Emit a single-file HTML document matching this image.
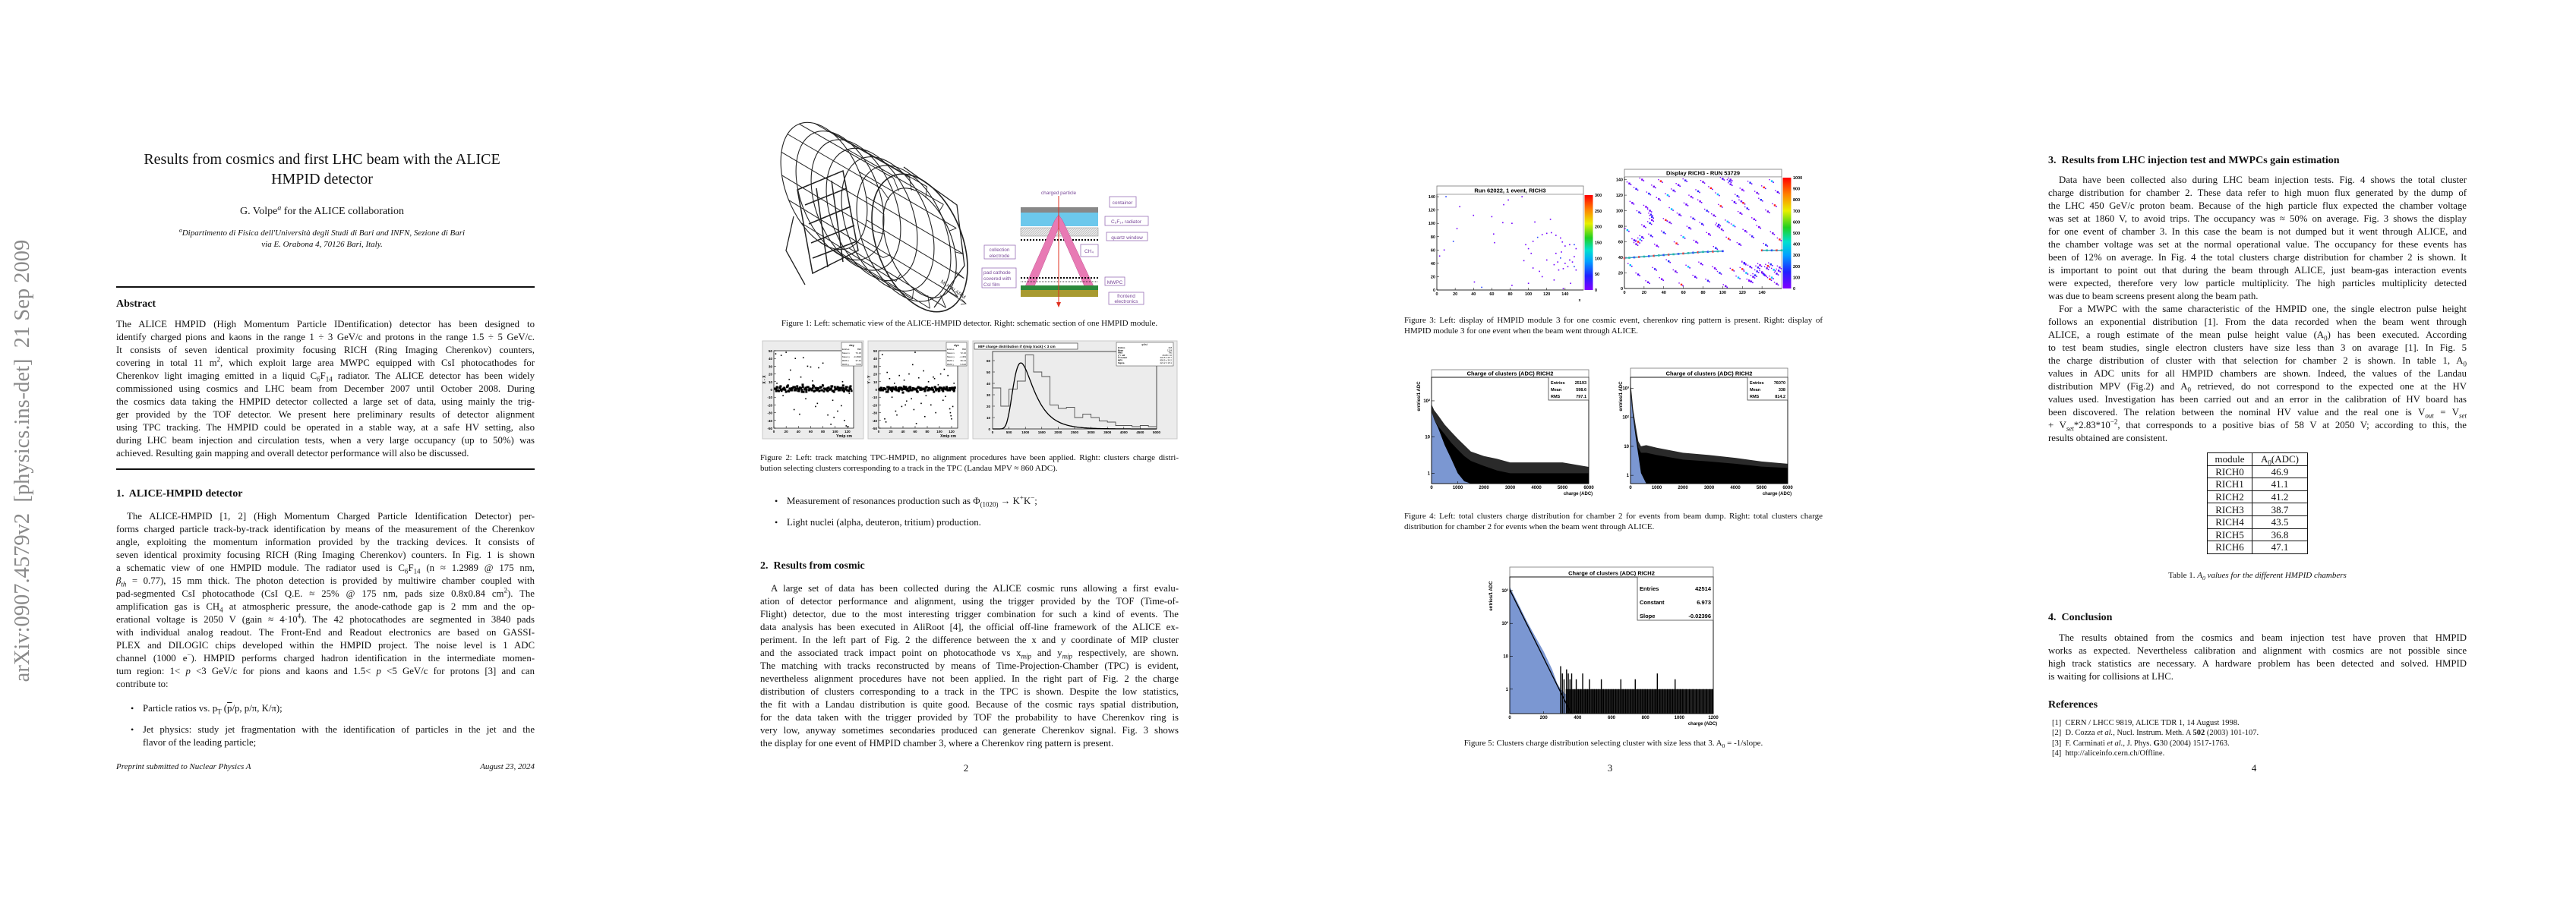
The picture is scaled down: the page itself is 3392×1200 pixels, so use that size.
<!DOCTYPE html>
<html><head><meta charset="utf-8">
<style>
html,body{margin:0;padding:0;background:#fff}
body{width:3392px;height:1200px;position:relative;overflow:hidden;font-family:"Liberation Serif",serif;color:#111}
.pg{position:absolute;top:0;width:848px;height:1200px}
.ln{position:absolute;left:153px;width:551px;height:17px;line-height:17px;font-size:12.8px;text-align:justify;text-align-last:justify;white-space:normal;overflow:visible}
.ln.e{text-align-last:left}
.ln.i{left:167px;width:537px}
.h{position:absolute;left:153px;font-weight:bold;font-size:14px;line-height:17px}
.cap{position:absolute;left:153px;width:551px;font-size:11px;line-height:14px;height:14px;text-align:justify;text-align-last:justify}
.cap.e{text-align-last:left}
.cap.c{text-align:center;text-align-last:center}
.pn{position:absolute;left:0;width:848px;text-align:center;font-size:13px;line-height:17px}
.bul{position:absolute;left:172px;font-size:12px;line-height:17px}
sub,sup{font-size:70%;line-height:0}
#figs{position:absolute;left:0;top:0}
</style></head>
<body>

<!-- PAGE 1 -->
<div class="pg" style="left:0">
  <div style="position:absolute;left:-270px;top:590px;width:600px;height:34px;transform:rotate(-90deg);font-size:28.5px;line-height:34px;color:#8a8a8a;white-space:nowrap;text-align:center">arXiv:0907.4579v2&nbsp; [physics.ins-det]&nbsp; 21 Sep 2009</div>
  <div style="position:absolute;left:0;width:848px;top:197px;text-align:center;font-size:20px;line-height:26px">Results from cosmics and first LHC beam with the ALICE<br>HMPID detector</div>
  <div style="position:absolute;left:0;width:848px;top:271px;text-align:center;font-size:14px">G. Volpe<sup><i>a</i></sup> for the ALICE collaboration</div>
  <div style="position:absolute;left:0;width:848px;top:300px;text-align:center;font-size:11px;line-height:15px;font-style:italic"><sup>a</sup>Dipartimento di Fisica dell'Università degli Studi di Bari and INFN, Sezione di Bari<br>via E. Orabona 4, 70126 Bari, Italy.</div>
  <div style="position:absolute;left:153px;width:551px;top:377px;height:1.5px;background:#111"></div>
  <div class="h" style="top:392px">Abstract</div>
  <div>
  <div class="ln" style="top:419px">The ALICE HMPID (High Momentum Particle IDentification) detector has been designed to</div>
  <div class="ln" style="top:436px">identify charged pions and kaons in the range 1 ÷ 3 GeV/c and protons in the range 1.5 ÷ 5 GeV/c.</div>
  <div class="ln" style="top:453px">It consists of seven identical proximity focusing RICH (Ring Imaging Cherenkov) counters,</div>
  <div class="ln" style="top:470px">covering in total 11 m<sup>2</sup>, which exploit large area MWPC equipped with CsI photocathodes for</div>
  <div class="ln" style="top:487px">Cherenkov light imaging emitted in a liquid C<sub>6</sub>F<sub>14</sub> radiator. The ALICE detector has been widely</div>
  <div class="ln" style="top:504px">commissioned using cosmics and LHC beam from December 2007 until October 2008. During</div>
  <div class="ln" style="top:521px">the cosmics data taking the HMPID detector collected a large set of data, using mainly the trig-</div>
  <div class="ln" style="top:538px">ger provided by the TOF detector. We present here preliminary results of detector alignment</div>
  <div class="ln" style="top:555px">using TPC tracking. The HMPID could be operated in a stable way, at a safe HV setting, also</div>
  <div class="ln" style="top:572px">during LHC beam injection and circulation tests, when a very large occupancy (up to 50%) was</div>
  <div class="ln e" style="top:589px">achieved. Resulting gain mapping and overall detector performance will also be discussed.</div>
  </div>
  <div style="position:absolute;left:153px;width:551px;top:617px;height:1.5px;background:#111"></div>
  <div class="h" style="top:642px">1.&nbsp; ALICE-HMPID detector</div>
  <div>
  <div class="ln i" style="top:672px">The ALICE-HMPID [1, 2] (High Momentum Charged Particle Identification Detector) per-</div>
  <div class="ln" style="top:689px">forms charged particle track-by-track identification by means of the measurement of the Cherenkov</div>
  <div class="ln" style="top:706px">angle, exploiting the momentum information provided by the tracking devices. It consists of</div>
  <div class="ln" style="top:723px">seven identical proximity focusing RICH (Ring Imaging Cherenkov) counters. In Fig. 1 is shown</div>
  <div class="ln" style="top:740px">a schematic view of one HMPID module. The radiator used is C<sub>6</sub>F<sub>14</sub> (n ≈ 1.2989 @ 175 nm,</div>
  <div class="ln" style="top:757px"><i>β<sub>th</sub></i> = 0.77), 15 mm thick. The photon detection is provided by multiwire chamber coupled with</div>
  <div class="ln" style="top:774px">pad-segmented CsI photocathode (CsI Q.E. ≈ 25% @ 175 nm, pads size 0.8x0.84 cm<sup>2</sup>). The</div>
  <div class="ln" style="top:791px">amplification gas is CH<sub>4</sub> at atmospheric pressure, the anode-cathode gap is 2 mm and the op-</div>
  <div class="ln" style="top:808px">erational voltage is 2050 V (gain ≈ 4·10<sup>4</sup>). The 42 photocathodes are segmented in 3840 pads</div>
  <div class="ln" style="top:825px">with individual analog readout. The Front-End and Readout electronics are based on GASSI-</div>
  <div class="ln" style="top:842px">PLEX and DILOGIC chips developed within the HMPID project. The noise level is 1 ADC</div>
  <div class="ln" style="top:859px">channel (1000 e<sup>−</sup>). HMPID performs charged hadron identification in the intermediate momen-</div>
  <div class="ln" style="top:876px">tum region: 1&lt; <i>p</i> &lt;3 GeV/c for pions and kaons and 1.5&lt; <i>p</i> &lt;5 GeV/c for protons [3] and can</div>
  <div class="ln e" style="top:893px">contribute to:</div>
  </div>
  <div class="bul" style="top:925px">•</div>
  <div class="ln e" style="top:925px;left:188px;width:516px">Particle ratios vs. p<sub>T</sub> (<span style="text-decoration:overline">p</span>/p, p/π, K/π);</div>
  <div class="bul" style="top:953px">•</div>
  <div class="ln" style="top:953px;left:188px;width:516px">Jet physics: study jet fragmentation with the identification of particles in the jet and the</div>
  <div class="ln e" style="top:970px;left:188px;width:516px">flavor of the leading particle;</div>
  <div style="position:absolute;left:153px;top:1004px;font-size:11px;font-style:italic">Preprint submitted to Nuclear Physics A</div>
  <div style="position:absolute;left:504px;width:200px;text-align:right;top:1004px;font-size:11px;font-style:italic">August 23, 2024</div>
</div>

<!-- PAGE 2 -->
<div class="pg" style="left:848px">
  <div class="cap c" style="top:419px">Figure 1: Left: schematic view of the ALICE-HMPID detector. Right: schematic section of one HMPID module.</div>
  <div class="cap" style="top:596px">Figure 2: Left: track matching TPC-HMPID, no alignment procedures have been applied. Right: clusters charge distri-</div>
  <div class="cap e" style="top:610px">bution selecting clusters corresponding to a track in the TPC (Landau MPV ≈ 860 ADC).</div>
  <div class="bul" style="top:652px">•</div>
  <div class="ln e" style="top:652px;left:188px;width:516px">Measurement of resonances production such as Φ<sub>(1020)</sub> → K<sup>+</sup>K<sup>−</sup>;</div>
  <div class="bul" style="top:680px">•</div>
  <div class="ln e" style="top:680px;left:188px;width:516px">Light nuclei (alpha, deuteron, tritium) production.</div>
  <div class="h" style="top:737px">2.&nbsp; Results from cosmic</div>
  <div>
  <div class="ln i" style="top:767px">A large set of data has been collected during the ALICE cosmic runs allowing a first evalu-</div>
  <div class="ln" style="top:784px">ation of detector performance and alignment, using the trigger provided by the TOF (Time-of-</div>
  <div class="ln" style="top:801px">Flight) detector, due to the most interesting trigger combination for such a kind of events. The</div>
  <div class="ln" style="top:818px">data analysis has been executed in AliRoot [4], the official off-line framework of the ALICE ex-</div>
  <div class="ln" style="top:835px">periment. In the left part of Fig. 2 the difference between the x and y coordinate of MIP cluster</div>
  <div class="ln" style="top:852px">and the associated track impact point on photocathode vs x<sub><i>mip</i></sub> and y<sub><i>mip</i></sub> respectively, are shown.</div>
  <div class="ln" style="top:869px">The matching with tracks reconstructed by means of Time-Projection-Chamber (TPC) is evident,</div>
  <div class="ln" style="top:886px">nevertheless alignment procedures have not been applied. In the right part of Fig. 2 the charge</div>
  <div class="ln" style="top:903px">distribution of clusters corresponding to a track in the TPC is shown. Despite the low statistics,</div>
  <div class="ln" style="top:920px">the fit with a Landau distribution is quite good. Because of the cosmic rays spatial distribution,</div>
  <div class="ln" style="top:937px">for the data taken with the trigger provided by TOF the probability to have Cherenkov ring is</div>
  <div class="ln" style="top:954px">very low, anyway sometimes secondaries produced can generate Cherenkov signal. Fig. 3 shows</div>
  <div class="ln e" style="top:971px">the display for one event of HMPID chamber 3, where a Cherenkov ring pattern is present.</div>
  </div>
  <div class="pn" style="top:1003px">2</div>
</div>

<!-- PAGE 3 -->
<div class="pg" style="left:1696px">
  <div class="cap" style="top:415px">Figure 3: Left: display of HMPID module 3 for one cosmic event, cherenkov ring pattern is present. Right: display of</div>
  <div class="cap e" style="top:429px">HMPID module 3 for one event when the beam went through ALICE.</div>
  <div class="cap" style="top:673px">Figure 4: Left: total clusters charge distribution for chamber 2 for events from beam dump. Right: total clusters charge</div>
  <div class="cap e" style="top:687px">distribution for chamber 2 for events when the beam went through ALICE.</div>
  <div class="cap c" style="top:972px">Figure 5: Clusters charge distribution selecting cluster with size less that 3. A<sub>0</sub> = -1/slope.</div>
  <div class="pn" style="top:1003px">3</div>
</div>

<!-- PAGE 4 -->
<div class="pg" style="left:2544px">
  <div class="h" style="top:203px">3.&nbsp; Results from LHC injection test and MWPCs gain estimation</div>
  <div>
  <div class="ln i" style="top:229px">Data have been collected also during LHC beam injection tests. Fig. 4 shows the total cluster</div>
  <div class="ln" style="top:246px">charge distribution for chamber 2. These data refer to high muon flux generated by the dump of</div>
  <div class="ln" style="top:263px">the LHC 450 GeV/c proton beam. Because of the high particle flux expected the chamber voltage</div>
  <div class="ln" style="top:280px">was set at 1860 V, to avoid trips. The occupancy was ≈ 50% on average. Fig. 3 shows the display</div>
  <div class="ln" style="top:297px">for one event of chamber 3. In this case the beam is not dumped but it went through ALICE, and</div>
  <div class="ln" style="top:314px">the chamber voltage was set at the normal operational value. The occupancy for these events has</div>
  <div class="ln" style="top:331px">been of 12% on average. In Fig. 4 the total clusters charge distribution for chamber 2 is shown. It</div>
  <div class="ln" style="top:348px">is important to point out that during the beam through ALICE, just beam-gas interaction events</div>
  <div class="ln" style="top:365px">were expected, therefore very low particle multiplicity. The high particles multiplicity detected</div>
  <div class="ln e" style="top:382px">was due to beam screens present along the beam path.</div>
  <div class="ln i" style="top:399px">For a MWPC with the same characteristic of the HMPID one, the single electron pulse height</div>
  <div class="ln" style="top:416px">follows an exponential distribution [1]. From the data recorded when the beam went through</div>
  <div class="ln" style="top:433px">ALICE, a rough estimate of the mean pulse height value (A<sub>0</sub>) has been executed. According</div>
  <div class="ln" style="top:450px">to test beam studies, single electron clusters have size less than 3 on avarage [1]. In Fig. 5</div>
  <div class="ln" style="top:467px">the charge distribution of cluster with that selection for chamber 2 is shown. In table 1, A<sub>0</sub></div>
  <div class="ln" style="top:484px">values in ADC units for all HMPID chambers are shown. Indeed, the values of the Landau</div>
  <div class="ln" style="top:501px">distribution MPV (Fig.2) and A<sub>0</sub> retrieved, do not correspond to the expected one at the HV</div>
  <div class="ln" style="top:518px">values used. Investigation has been carried out and an error in the calibration of HV board has</div>
  <div class="ln" style="top:535px">been discovered. The relation between the nominal HV value and the real one is V<sub><i>out</i></sub> = V<sub><i>set</i></sub></div>
  <div class="ln" style="top:552px">+ V<sub><i>set</i></sub>*2.83*10<sup>−2</sup>, that corresponds to a positive bias of 58 V at 2050 V; according to this, the</div>
  <div class="ln e" style="top:569px">results obtained are consistent.</div>
  </div>
  <table style="position:absolute;left:362px;top:596px;border-collapse:collapse;font-size:13px;line-height:15px">
    <tr><td style="border:1.2px solid #111;width:58px;text-align:center;height:15.6px;padding:0">module</td><td style="border:1.2px solid #111;width:72px;text-align:center;padding:0">A<sub>0</sub>(ADC)</td></tr>
    <tr><td style="border:1.2px solid #111;text-align:center;height:15.6px;padding:0">RICH0</td><td style="border:1.2px solid #111;text-align:center;padding:0">46.9</td></tr>
    <tr><td style="border:1.2px solid #111;text-align:center;height:15.6px;padding:0">RICH1</td><td style="border:1.2px solid #111;text-align:center;padding:0">41.1</td></tr>
    <tr><td style="border:1.2px solid #111;text-align:center;height:15.6px;padding:0">RICH2</td><td style="border:1.2px solid #111;text-align:center;padding:0">41.2</td></tr>
    <tr><td style="border:1.2px solid #111;text-align:center;height:15.6px;padding:0">RICH3</td><td style="border:1.2px solid #111;text-align:center;padding:0">38.7</td></tr>
    <tr><td style="border:1.2px solid #111;text-align:center;height:15.6px;padding:0">RICH4</td><td style="border:1.2px solid #111;text-align:center;padding:0">43.5</td></tr>
    <tr><td style="border:1.2px solid #111;text-align:center;height:15.6px;padding:0">RICH5</td><td style="border:1.2px solid #111;text-align:center;padding:0">36.8</td></tr>
    <tr><td style="border:1.2px solid #111;text-align:center;height:15.6px;padding:0">RICH6</td><td style="border:1.2px solid #111;text-align:center;padding:0">47.1</td></tr>
  </table>
  <div class="cap c" style="top:751px">Table 1. <i>A<sub>0</sub> values for the different HMPID chambers</i></div>
  <div class="h" style="top:805px">4.&nbsp; Conclusion</div>
  <div>
  <div class="ln i" style="top:832px">The results obtained from the cosmics and beam injection test have proven that HMPID</div>
  <div class="ln" style="top:849px">works as expected. Nevertheless calibration and alignment with cosmics are not possible since</div>
  <div class="ln" style="top:866px">high track statistics are necessary. A hardware problem has been detected and solved. HMPID</div>
  <div class="ln e" style="top:883px">is waiting for collisions at LHC.</div>
  </div>
  <div class="h" style="top:920px">References</div>
  <div style="position:absolute;left:158px;top:946px;font-size:10.5px;line-height:13.4px">
    [1]&nbsp; CERN / LHCC 9819, ALICE TDR 1, 14 August 1998.<br>
    [2]&nbsp; D. Cozza <i>et al.</i>, Nucl. Instrum. Meth. A <b>502</b> (2003) 101-107.<br>
    [3]&nbsp; F. Carminati <i>et al.</i>, J. Phys. <b>G</b>30 (2004) 1517-1763.<br>
    [4]&nbsp; http://aliceinfo.cern.ch/Offline.
  </div>
  <div class="pn" style="top:1003px">4</div>
</div>

<svg id="figs" width="3392" height="1200" xmlns="http://www.w3.org/2000/svg">
<defs>
  <linearGradient id="rainbow" x1="0" y1="1" x2="0" y2="0">
    <stop offset="0" stop-color="#8000ff"/><stop offset="0.15" stop-color="#2020ff"/><stop offset="0.3" stop-color="#00a0ff"/>
    <stop offset="0.42" stop-color="#00e0d0"/><stop offset="0.55" stop-color="#20d020"/><stop offset="0.7" stop-color="#e8f000"/>
    <stop offset="0.85" stop-color="#ff8000"/><stop offset="1" stop-color="#ff0000"/>
  </linearGradient>
  <pattern id="hatch" width="3" height="3" patternUnits="userSpaceOnUse"><rect width="3" height="3" fill="#e8e8e8"/><path d="M0 3 L3 0" stroke="#999" stroke-width="0.5"/></pattern>
</defs>
<!-- Figure 1 left: detector wireframe -->
<g id="detector" fill="none" stroke="#222" stroke-width="1.1">
  <path d="M1050 250 L1110 225 L1130 330 L1070 360 Z M1060 270 L1115 248 M1065 295 L1120 272 M1068 320 L1125 297 M1070 340 L1128 318 M1075 248 L1090 352 M1095 238 L1110 345" stroke-width="1.5"/>
  <path d="M1045 285 L1035 330 L1060 375 M1190 220 L1260 270 L1270 350 L1230 405" stroke-width="1.3"/>
  <path d="M1235 375 L1272 400 M1266 394 L1272 400 L1265 401" stroke-width="0.8"/>
  <text x="1238" y="372" font-size="7" font-family="Liberation Sans" fill="#333" stroke="none" transform="rotate(35 1238 372)">MUON ARM</text>
</g>
<!-- Figure 1 right: module section -->
<g font-family="Liberation Sans" font-size="6.5" fill="#7a4a9a">
  <text x="1394" y="256" text-anchor="middle">charged particle</text>
  <rect x="1344" y="273" width="102" height="7" fill="#888"/>
  <rect x="1344" y="280" width="102" height="18" fill="#6cc8ec"/>
  <rect x="1344" y="300" width="102" height="11" fill="url(#hatch)" stroke="#888" stroke-width="0.5"/>
  <line x1="1344" y1="316" x2="1446" y2="316" stroke="#000" stroke-width="2" stroke-dasharray="2 2"/>
  <path d="M1394 283 L1399 290 L1440 377 L1428 377 L1394 300 L1362 377 L1350 377 L1389 290 Z" fill="#e87ab4" stroke="#c05090" stroke-width="0.5"/>
  <line x1="1344" y1="366" x2="1446" y2="366" stroke="#000" stroke-width="2" stroke-dasharray="2 2"/>
  <line x1="1344" y1="371" x2="1446" y2="371" stroke="#000" stroke-width="0.7" stroke-dasharray="1 1"/>
  <rect x="1344" y="376" width="102" height="6" fill="#2a8a3a"/>
  <rect x="1344" y="382" width="102" height="9" fill="#a89a30"/>
  <line x1="1394" y1="258" x2="1394" y2="400" stroke="#e03020" stroke-width="1"/>
  <path d="M1391 398 L1394 405 L1397 398 Z" fill="#e03020"/>
  <g fill="#fff" stroke="#9a70b8" stroke-width="0.8">
    <rect x="1461" y="259" width="35" height="14"/><rect x="1455" y="285" width="57" height="12"/>
    <rect x="1457" y="306" width="54" height="11"/><rect x="1296" y="323" width="41" height="18"/>
    <rect x="1423" y="322" width="23" height="16"/><rect x="1293" y="353" width="45" height="26"/>
    <rect x="1455" y="365" width="26" height="11"/><rect x="1460" y="385" width="46" height="16"/>
  </g>
  <text x="1478" y="269" text-anchor="middle">container</text>
  <text x="1483" y="294" text-anchor="middle">C₆F₁₄ radiator</text>
  <text x="1484" y="315" text-anchor="middle">quartz window</text>
  <text x="1316" y="331" text-anchor="middle">collection</text><text x="1316" y="339" text-anchor="middle">electrode</text>
  <text x="1434" y="333" text-anchor="middle">CH₄</text>
  <text x="1295" y="361">pad cathode</text><text x="1295" y="369">covered with</text><text x="1295" y="377">CsI film</text>
  <text x="1468" y="374" text-anchor="middle">MWPC</text>
  <text x="1483" y="392" text-anchor="middle">frontend</text><text x="1483" y="399" text-anchor="middle">electronics</text>
</g>
</svg>

<script>
// ---------------- data arrays ----------------
const fig2LeftOutX = [3,12,20,27,35,42,48,55,60,68,73,80,88,93,98,104,110,115,118,121,5,15,25,33,44,52,63,71,79,96,112,123];
const fig2LeftOutY = [46,44,48,25,40,-32,41,30,29,-22,28,34,-33,-45,-36,-28,-21,-40,-47,-48,8,-8,13,-26,16,-12,11,-18,6,-14,10,-5];
const fig2LeftBandX = [2,5,8,11,14,17,20,23,26,29,32,35,38,41,44,47,50,53,56,59,62,65,68,71,74,77,80,83,86,89,92,95,98,101,104,107,110,113,116,119,122,125,4,10,16,22,28,34,40,46,52,58,64,70,76,82,88,94,100,106,112,118,124];
const fig2LeftBandY = [1,3,-2,4,0,2,-3,5,1,-1,3,0,4,-2,2,6,0,-3,3,1,-1,4,2,0,-2,3,5,1,-1,2,0,4,-3,1,3,-1,2,5,0,3,-2,4,-2,2,0,4,-1,3,1,-3,2,0,5,-1,3,1,-2,4,0,2,-1,3,1];
const fig2MidOutX = [6,10,14,18,22,26,30,34,38,42,46,50,54,58,60,62,66,70,74,78,82,86,90,94,98,102,106,110,114,117,118,119,120,122,124,12,28,44,56,76,92,108];
const fig2MidOutY = [45,-38,22,14,-10,8,-33,18,-22,12,-15,20,-12,-26,48,-44,15,-18,24,-8,10,-20,16,-30,6,20,-14,-9,18,-25,-30,-34,-38,-22,8,-42,-28,-20,32,-35,14,26];
const fig2MidBandX = [1,4,7,10,13,16,19,22,25,28,31,34,37,40,43,46,49,52,55,58,61,64,67,70,73,76,79,82,85,88,91,94,97,100,103,106,109,112,115,118,121,124,3,9,15,21,27,33,39,45,51,57,63,69,75,81,87,93,99,105,111,117,123];
const fig2MidBandY = [0,2,-1,1,-3,0,2,-2,1,3,-1,0,2,-4,1,0,-2,3,-1,1,0,-3,2,0,1,-2,3,-1,0,2,-3,1,0,-1,2,-2,1,3,-1,0,2,-2,-1,1,-3,2,0,-2,1,3,-1,0,-2,2,1,-1,0,3,-2,1,0,-1,2];
const fig2HistEdges = [0,250,500,750,1000,1250,1500,1750,2000,2250,2500,2750,3000,3250,3500,3750,4000,4250,4500,4750,5000];
const fig2HistCounts = [36,20,35,42,65,50,46,21,18,19,10,13,10,7,6,3,3,2,3,2];
const fig2Ticks = [0,500,1000,1500,2000,2500,3000,3500,4000,4500,5000];
const fig2YTicks = [0,10,20,30,40,50,60];
const landauMPV = 860, landauSigma = 210, landauScale = 58;
const fig3LeftX = [10,25,40,73,78,60,72,82,22,18,8,3,62,63,93,107,124,105,110,115,120,125,130,135,137,140,145,150,152,150,148,143,138,133,128,132,135,120,112,105,100,97,103,140,145,150,152,128,115,100,95,130,136,41,49,82,146,138];
const fig3LeftY = [140,125,112,128,135,110,101,100,92,73,60,51,84,71,140,102,106,73,79,83,85,86,82,78,72,66,68,68,62,50,42,35,32,30,38,42,48,45,28,33,62,68,55,40,45,35,30,15,20,10,44,55,57,12,4,7,10,2];
const fig3RightX = [5,12,18,25,30,37,44,50,55,62,68,75,80,88,95,100,108,115,120,128,135,142,150,156,8,15,22,28,35,42,48,56,63,70,77,84,91,98,105,112,118,125,132,139,146,153,3,10,20,27,33,40,46,53,60,66,73,79,86,93,99,106,111,117,123,130,137,144,151,158,6,14,24,31,38,45,52,58,65,72,78,85,92,97,103,110,116,122,129,136,143,149,155,120,124,128,131,135,138,142,145,148,152,155,158,122,127,133,140,146,150,157,26,27,28,26,12,14,16,18,95,96,108,107,119,121];
const fig3RightY = [135,128,140,122,131,138,120,126,133,139,118,125,137,129,121,141,134,119,127,136,123,130,138,124,110,98,105,92,115,88,102,95,108,90,112,100,94,106,86,111,97,103,89,114,99,107,75,62,80,68,55,72,85,58,66,78,60,83,70,52,76,64,81,57,74,67,79,56,71,63,30,18,8,25,12,35,22,5,28,15,32,10,26,20,3,24,14,33,9,27,17,31,6,25,20,28,15,22,30,18,26,12,24,19,27,32,10,17,21,29,14,23,100,95,88,84,57,60,63,66,80,82,140,138,112,110];
const fig3TrackX = [0,5,10,15,20,25,30,35,40,45,50,55,60,65,70,75,80,85,90,95,100,140,145,150,155,160];
const fig3TrackY = [39,39.5,40,40.5,41,41.5,42,42.5,43,43.5,44,44.5,45,45.5,46,46.5,47,47.2,47.5,47.8,48,49,49,49,49,49];
const fig3LeftTicks = [0,20,40,60,80,100,120,140];
const fig3LeftZTicks = [0,50,100,150,200,250,300];
const fig3RightZTicks = [0,100,200,300,400,500,600,700,800,900,1000];
const fig4X = [0,100,250,500,750,1000,1250,1500,2000,2500,3000,4000,5000,6000];
const fig4LeftEnvelope = [80,55,40,22,14,9,6,4,3,2.5,2,2,2,1.5];
const fig4LeftSolid = [50,30,20,12,7,4.5,3,2.2,1.6,1.2,1,1,1,1];
const fig4LeftBlue = [50,30,18,6,2.5,1,0.6,0.5,0.5,0.5,0.5,0.5,0.5,0.5];
const fig4RX = [0,50,100,200,300,400,600,1000,2000,3000,4000,5000,6000];
const fig4RightEnvelope = [1500,600,200,50,15,10,11,9,6,5,4,3,2.5];
const fig4RightSolid = [800,300,120,30,9,6,6,5,3.5,3,2.5,2,1.8];
const fig4RightBlue = [800,250,100,20,5,1.2,0.5,0.5,0.5,0.5,0.5,0.5,0.5];
const fig4XTicks = [0,1000,2000,3000,4000,5000,6000];
const fig5BlueX = [0,50,100,150,200,250,280,300,330];
const fig5BlueY = [1300,400,120,40,14,4,1.5,1,0.7];
const fig5TailX = [300,310,320,335,345,355,365,380,392,405,418,430,445,458,470,485,498,512,525,540,552,568,582,597,610,625,640,655,668,683,697,712,726,740,755,770,784,798,812,828,842,857,870,885,900,915,930,945,960,975,990,1005,1020,1040,1060,1080,1100,1120,1140,1160,1180,1195];
const fig5TailY = [5,3,2,4,3,2,3,1,2,1,1,3,1,1,2,1,1,1,1,2,1,1,1,1,1,1,1,2,1,1,1,1,1,2,1,1,1,1,1,1,1,1,3,1,1,1,1,1,1,2,1,1,1,1,1,1,1,1,1,1,1,1];
const fig5Constant = 6.973, fig5Slope = -0.02396;
const fig5XTicks = [0,200,400,600,800,1000,1200];
const logTickVals = [1,10,100,1000];

// ---------------- helpers ----------------
const NS = 'http://www.w3.org/2000/svg';
const svg = document.getElementById('figs');
function mk(tag, parent) { const e = document.createElementNS(NS, tag); (parent || svg).appendChild(e); return e; }
function lin(d0, d1, r0, r1) { return v => r0 + (v - d0) / (d1 - d0) * (r1 - r0); }
function logS(d0, d1, r0, r1) { return v => { const c = Math.max(v, d0); return r0 + (Math.log10(c) - Math.log10(d0)) / (Math.log10(d1) - Math.log10(d0)) * (r1 - r0); }; }
function txt(parent, x, y, s, size, anchor, weight) {
  const t = mk('text', parent);
  t.setAttribute('x', x); t.setAttribute('y', y);
  t.setAttribute('font-family', 'Liberation Sans, sans-serif');
  t.setAttribute('font-size', size); t.setAttribute('text-anchor', anchor || 'middle');
  if (weight) t.setAttribute('font-weight', weight);
  t.textContent = s; return t;
}
function rect(parent, x, y, w, h, fill, stroke, sw) {
  const r = mk('rect', parent);
  r.setAttribute('x', x); r.setAttribute('y', y); r.setAttribute('width', w); r.setAttribute('height', h);
  r.setAttribute('fill', fill || 'none'); if (stroke) { r.setAttribute('stroke', stroke); r.setAttribute('stroke-width', sw || 0.8); }
  return r;
}
function line(parent, x1, y1, x2, y2, stroke, sw) {
  const l = mk('line', parent);
  l.setAttribute('x1', x1); l.setAttribute('y1', y1); l.setAttribute('x2', x2); l.setAttribute('y2', y2);
  l.setAttribute('stroke', stroke || '#000'); l.setAttribute('stroke-width', sw || 0.8); return l;
}
function dot(parent, x, y, r, fill) { const c = mk('rect', parent); c.setAttribute('x', x - r); c.setAttribute('y', y - r); c.setAttribute('width', 2 * r); c.setAttribute('height', 2 * r); c.setAttribute('fill', fill); return c; }
function titleBox(parent, x0, x1, y0, y1, s, size) {
  rect(parent, x0, y0, x1 - x0, y1 - y0, '#fff', '#777', 0.8);
  txt(parent, (x0 + x1) / 2, y1 - 2.5, s, size, 'middle', 'bold');
}
function statsBox(parent, x0, y0, w, rows, size, rh) {
  rect(parent, x0, y0, w, rows.length * rh + 3, '#fff', '#444', 0.8);
  rows.forEach((r, i) => { txt(parent, x0 + 3, y0 + rh * (i + 1), r[0], size, 'start', 'bold'); txt(parent, x0 + w - 3, y0 + rh * (i + 1), r[1], size, 'end', 'bold'); });
}

// ---------------- Figure 1 wireframe (decorative drawing) ----------------
(function () {
  const g = document.getElementById('detector');
  for (let k = 0; k < 7; k++) {
    const cx = 1085 + k * 21, cy = 245 + k * 12.5;
    const e = mk('ellipse', g);
    e.setAttribute('cx', cx); e.setAttribute('cy', cy); e.setAttribute('rx', 50 + k); e.setAttribute('ry', 88 + k * 1.2);
    e.setAttribute('transform', 'rotate(-22 ' + cx + ' ' + cy + ')');
    e.setAttribute('stroke-width', k === 6 ? 1.6 : 1.1);
  }
  const e2 = mk('ellipse', g);
  e2.setAttribute('cx', 1211); e2.setAttribute('cy', 320); e2.setAttribute('rx', 42); e2.setAttribute('ry', 76);
  e2.setAttribute('transform', 'rotate(-22 1211 320)');
  for (let a = 0; a < 360; a += 22.5) {
    const r = a * Math.PI / 180, c = Math.cos(-22 * Math.PI / 180), s = Math.sin(-22 * Math.PI / 180);
    const ex = 52 * Math.cos(r), ey = 92 * Math.sin(r);
    const dx = ex * c - ey * s, dy = ex * s + ey * c;
    line(g, 1085 + dx * 0.96, 245 + dy * 0.96, 1211 + dx, 320 + dy, '#222', 1);
    line(g, 1211 + dx * 0.8, 320 + dy * 0.8, 1211 + dx, 320 + dy, '#222', 0.9);
  }
})();

// ---------------- Figure 2 scatter panels ----------------
function scatterPanel(name, fx0, fx1, px0, px1, bx, by, ox, oy, xlab, ylab, stats) {
  const g = mk('g');
  
  
  rect(g, fx0, 449, fx1 - fx0, 129, '#ececec', '#c8c8c8', 1);
  rect(g, px0, 462, px1 - px0, 102, '#fff', '#000', 0.7);
  const sx = lin(0, 130, px0, px1), sy = lin(-50, 50, 564, 462);
  [-50,-40,-30,-20,-10,0,10,20,30,40,50].forEach(v => { line(g, px0, sy(v), px0 + 3, sy(v), '#000', 0.5); txt(g, px0 - 2, sy(v) + 2, String(v), 4.5, 'end', 'bold'); });
  [0,20,40,60,80,100,120].forEach(v => { line(g, sx(v), 564, sx(v), 561, '#000', 0.5); txt(g, sx(v), 570, String(v), 4.5, 'middle', 'bold'); });
  txt(g, px1 - 2, 576, xlab, 5, 'end', 'bold');
  const yl = txt(g, px0 - 11, 500, ylab, 5, 'middle', 'bold'); yl.setAttribute('transform', 'rotate(-90 ' + (px0 - 11) + ' 500)');
  for (let i = 0; i < Math.min(bx.length, by.length); i++) dot(g, sx(bx[i]), sy(by[i]), 1.5, '#000');
  for (let i = 0; i < Math.min(bx.length, by.length); i++) dot(g, sx(bx[i] + 1.5), sy(-by[i] * 0.7 + 1), 1.4, '#000');
  for (let i = 0; i < Math.min(ox.length, oy.length); i++) dot(g, sx(ox[i]), sy(oy[i]), 0.8, '#000');
  rect(g, fx1 - 29, 451, 27, 31, '#fff', '#555', 0.6);
  txt(g, fx1 - 15.5, 456, stats[0], 3.8, 'middle', 'bold');
  for (let i = 1; i < stats.length; i++) { txt(g, fx1 - 28, 456 + i * 5, stats[i][0], 3, 'start'); txt(g, fx1 - 3, 456 + i * 5, stats[i][1], 3, 'end'); }
}
scatterPanel('figure-2-dx-vs-ymip', 1004, 1137, 1019, 1124, fig2LeftBandX, fig2LeftBandY, fig2LeftOutX, fig2LeftOutY, 'Ymip cm', 'X - X', ['dxy', ['Entries', '890'], ['Mean x', '73.15'], ['Mean y', '-0.2826'], ['RMS x', '37.44'], ['RMS y', '7.876']]);
scatterPanel('figure-2-dy-vs-xmip', 1143, 1275, 1157, 1261, fig2MidBandX, fig2MidBandY, fig2MidOutX, fig2MidOutY, 'Xmip cm', 'Y - Y', ['dyx', ['Entries', '890'], ['Mean x', '72.16'], ['Mean y', '-1.453'], ['RMS x', '36.24'], ['RMS y', '9.618']]);

// ---------------- Figure 2 right: MIP charge histogram ----------------
(function () {
  const g = mk('g');
  
  
  rect(g, 1281, 449, 269, 129, '#ececec', '#c8c8c8', 1);
  const px0 = 1307, px1 = 1523, py0 = 463, py1 = 565;
  rect(g, px0, py0, px1 - px0, py1 - py0, '#ececec', '#000', 0.7);
  const sx = lin(0, 5000, px0, px1), sy = lin(0, 68, py1, py0);
  fig2YTicks.forEach(v => { line(g, px0, sy(v), px0 + 3, sy(v), '#000', 0.5); txt(g, px0 - 3, sy(v) + 2, String(v), 4.5, 'end', 'bold'); });
  fig2Ticks.forEach(v => { line(g, sx(v), py1, sx(v), py1 - 3, '#000', 0.5); txt(g, sx(v), py1 + 6, String(v), 4.5, 'middle', 'bold'); });
  let d = 'M' + sx(0) + ' ' + sy(0);
  for (let i = 0; i < fig2HistCounts.length; i++) d += ' L' + sx(fig2HistEdges[i]) + ' ' + sy(fig2HistCounts[i]) + ' L' + sx(fig2HistEdges[i + 1]) + ' ' + sy(fig2HistCounts[i]);
  d += ' L' + sx(5000) + ' ' + sy(0);
  const h = mk('path', g); h.setAttribute('d', d); h.setAttribute('fill', 'none'); h.setAttribute('stroke', '#555'); h.setAttribute('stroke-width', 0.9);
  
  
  let f = '';
  for (let x = 0; x <= 5000; x += 25) {
    const lam = (x - landauMPV) / landauSigma;
    const y = landauScale * Math.exp(-0.5 * (lam + Math.exp(-lam))) / Math.exp(-0.5);
    f += (x ? ' L' : 'M') + sx(x).toFixed(1) + ' ' + sy(y).toFixed(1);
  }
  const fc = mk('path', g); fc.setAttribute('d', f); fc.setAttribute('fill', 'none'); fc.setAttribute('stroke', '#000'); fc.setAttribute('stroke-width', 1.3);
  
  
  rect(g, 1283, 452, 136, 8, '#fff', '#444', 0.7);
  txt(g, 1288, 458, 'MIP charge distribution if r(mip track) < 3 cm', 4.8, 'start', 'bold');
  rect(g, 1470, 451, 75, 31, '#fff', '#555', 0.6);
  txt(g, 1507, 455, 'qdist', 3.5, 'middle');
  [['Entries', '418'], ['Mean', '1124'], ['RMS', '780'], ['χ² / ndf', '26.88 / 16'], ['Constant', '332.5 ± 25.7'], ['MPV', '858.5 ± 30.2'], ['Sigma', '221.2 ± 15.1']].forEach((r, i) => { txt(g, 1472, 459 + i * 3.3, r[0], 2.8, 'start', 'bold'); txt(g, 1543, 459 + i * 3.3, r[1], 2.8, 'end'); });
})();

// ---------------- Figure 3 displays ----------------
function display(name, px0, px1, py0, py1, tb0, title, xs, ys, zticks, zcolorIdx, withTrack, tx, ty, xlabel) {
  const g = mk('g');
  
  
  titleBox(g, px0, px1, tb0, py0, title, 7.5);
  rect(g, px0, py0, px1 - px0, py1 - py0, '#fff', '#888', 0.7);
  const ymax = 143.5;
  const sx = lin(0, 160, px0, px1), sy = lin(0, ymax, py1, py0);
  fig3LeftTicks.forEach(v => { line(g, px0, sy(v), px0 + 3, sy(v), '#000', 0.5); txt(g, px0 - 2, sy(v) + 2, String(v), 5.5, 'end', 'bold'); txt(g, sx(v), py1 + 7, String(v), 5.5, 'middle', 'bold'); line(g, sx(v), py1, sx(v), py1 - 3, '#000', 0.5); });
  line(g, px0, py1, px1, py1, '#000', 0.7); line(g, px0, py0, px0, py1, '#000', 0.7);
  const palette = ['#6a00ff', '#3a20ff', '#8000ff', '#2030ff', '#7010ee', '#ff2020', '#00c0ff', '#5000ff'];
  for (let i = 0; i < Math.min(xs.length, ys.length); i++) {
    const c = zcolorIdx ? palette[i % palette.length] : (i % 9 === 0 ? '#2040ff' : '#7000ff');
    dot(g, sx(xs[i]), sy(ys[i]), zcolorIdx ? 1.2 : 0.8, c);
    if (zcolorIdx) { dot(g, sx(xs[i]) + 2, sy(ys[i]) + 1.5, 0.8, '#6a00ff'); dot(g, sx(xs[i]) - 3, sy(ys[i]) - 2, 0.7, '#8000ff'); }
  }
  if (withTrack) {
    for (let i = 0; i < Math.min(tx.length, ty.length); i++) {
      dot(g, sx(tx[i]), sy(ty[i]), 1.3, i % 3 === 0 ? '#ff3030' : (i % 3 === 1 ? '#20c0a0' : '#3040ff'));
      if (i + 1 < tx.length && tx[i + 1] - tx[i] < 10) line(g, sx(tx[i]), sy(ty[i]), sx(tx[i + 1]), sy(ty[i + 1]), '#30a0c0', 1.4);
    }
  }
  const cb = rect(g, px1 + 1.5, py0 + 1, 11, py1 - py0 - 1, 'url(#rainbow)');
  
  
  const zmax = zticks[zticks.length - 1];
  const sz = lin(0, zmax, py1, py0 + 1);
  zticks.forEach(v => txt(g, px1 + 15, sz(v) + 2, String(v), 5.5, 'start', 'bold'));
  if (xlabel) txt(g, px1 - 5, py1 + 15, xlabel, 5, 'middle', 'bold');
}
display('figure-3-cosmic-event-display', 1892, 2085, 256, 382, 245, 'Run 62022, 1 event, RICH3', fig3LeftX, fig3LeftY, fig3LeftZTicks, false, false, [], [], 'x');
display('figure-3-beam-event-display', 2139, 2346, 233, 380, 223, 'Display RICH3 - RUN 53729', fig3RightX, fig3RightY, fig3RightZTicks, true, true, fig3TrackX, fig3TrackY, '');

// ---------------- Figure 4 / 5 log histograms ----------------
function logHist(name, px0, px1, py0, py1, xmax, ymin, ymax, xTicks, title, tb0, layers, stats, ylabelX) {
  const g = mk('g');
  
  
  titleBox(g, px0, px1, tb0, py0, title, 7.5);
  rect(g, px0, py0, px1 - px0, py1 - py0, '#fff');
  const sx = lin(0, xmax, px0, px1), sy = logS(ymin, ymax, py1, py0);
  layers.forEach(L => {
    let d = 'M' + sx(L.x[0]) + ' ' + py1;
    for (let i = 0; i < Math.min(L.x.length, L.y.length); i++) d += ' L' + sx(L.x[i]).toFixed(1) + ' ' + sy(L.y[i]).toFixed(1);
    d += ' L' + sx(L.x[Math.min(L.x.length, L.y.length) - 1]) + ' ' + py1 + ' Z';
    const p = mk('path', g); p.setAttribute('d', d); p.setAttribute('fill', L.fill);
    
    
  });
  return { g, sx, sy, finish: () => {
    rect(g, px0, py0, px1 - px0, py1 - py0, 'none', '#000', 0.9);
    logTickVals.forEach(v => { if (v > ymin && v < ymax) { line(g, px0, sy(v), px0 + 4, sy(v), '#000', 0.6); txt(g, px0 - 2, sy(v) + 2, v === 1 ? '1' : (v === 10 ? '10' : (v === 100 ? '10²' : '10³')), 6, 'end', 'bold'); } });
    xTicks.forEach(v => { line(g, sx(v), py1, sx(v), py1 - 3, '#000', 0.6); txt(g, sx(v), py1 + 7, String(v), 6, 'middle', 'bold'); });
    txt(g, px1 - 14, py1 + 15, 'charge (ADC)', 6, 'middle', 'bold');
    const yl = txt(g, ylabelX, py0 + 25, 'entries/1 ADC', 6, 'middle', 'bold'); yl.setAttribute('transform', 'rotate(-90 ' + ylabelX + ' ' + (py0 + 25) + ')');
    if (stats) statsBox(g, px1 - stats.w, py0, stats.w, stats.rows, stats.size, stats.rh);
  } };
}
const f4l = logHist('figure-4-beam-dump-charge', 1885, 2092, 497, 637, 6000, 0.52, 445, fig4XTicks, 'Charge of clusters (ADC) RICH2', 487,
  [{ x: fig4X, y: fig4LeftEnvelope, fill: '#2a2a2a', name: 'envelope-spikes' }, { x: fig4X, y: fig4LeftSolid, fill: '#000', name: 'dense-entries' }, { x: fig4X, y: fig4LeftBlue, fill: '#7b97d2', name: 'blue-fill' }],
  { w: 53, size: 5.5, rh: 9, rows: [['Entries', '25193'], ['Mean', '598.6'], ['RMS', '797.1']] }, 1870);
f4l.finish();
const f4r = logHist('figure-4-beam-through-charge', 2147, 2354, 497, 637, 6000, 0.52, 2400, fig4XTicks, 'Charge of clusters (ADC) RICH2', 485,
  [{ x: fig4RX, y: fig4RightEnvelope, fill: '#2a2a2a', name: 'envelope-spikes' }, { x: fig4RX, y: fig4RightSolid, fill: '#000', name: 'dense-entries' }, { x: fig4RX, y: fig4RightBlue, fill: '#7b97d2', name: 'blue-fill' }],
  { w: 53, size: 5.5, rh: 9, rows: [['Entries', '76070'], ['Mean', '338'], ['RMS', '814.2']] }, 2136);
f4r.finish();
const f5 = logHist('figure-5-small-cluster-charge', 1988, 2256, 760, 940, 1200, 0.18, 2600, fig5XTicks, 'Charge of clusters (ADC) RICH2', 747,
  [{ x: fig5BlueX, y: fig5BlueY, fill: '#7b97d2', name: 'blue-fill' }], null, 1965);
rect(f5.g, f5.sx(330), f5.sy(1), f5.sx(1200) - f5.sx(330), 940 - f5.sy(1), '#222');
for (let i = 0; i < Math.min(fig5TailX.length, fig5TailY.length); i++) {
  const l = line(f5.g, f5.sx(fig5TailX[i]), 940, f5.sx(fig5TailX[i]), f5.sy(fig5TailY[i]), '#000', 1.4);
  
  
}
(function () {
  let d = '';
  for (let x = 0; x <= 370; x += 10) { const y = Math.exp(fig5Constant + fig5Slope * x); d += (x ? ' L' : 'M') + f5.sx(x).toFixed(1) + ' ' + f5.sy(y).toFixed(1); }
  const p = mk('path', f5.g); p.setAttribute('d', d); p.setAttribute('fill', 'none'); p.setAttribute('stroke', '#000'); p.setAttribute('stroke-width', 1.3);
  
  
})();
f5.finish();
statsBox(f5.g, 2156, 760, 100, [['Entries', '42514'], ['Constant', '6.973'], ['Slope', '-0.02396']], 7.5, 18);
</script>
</body></html>
